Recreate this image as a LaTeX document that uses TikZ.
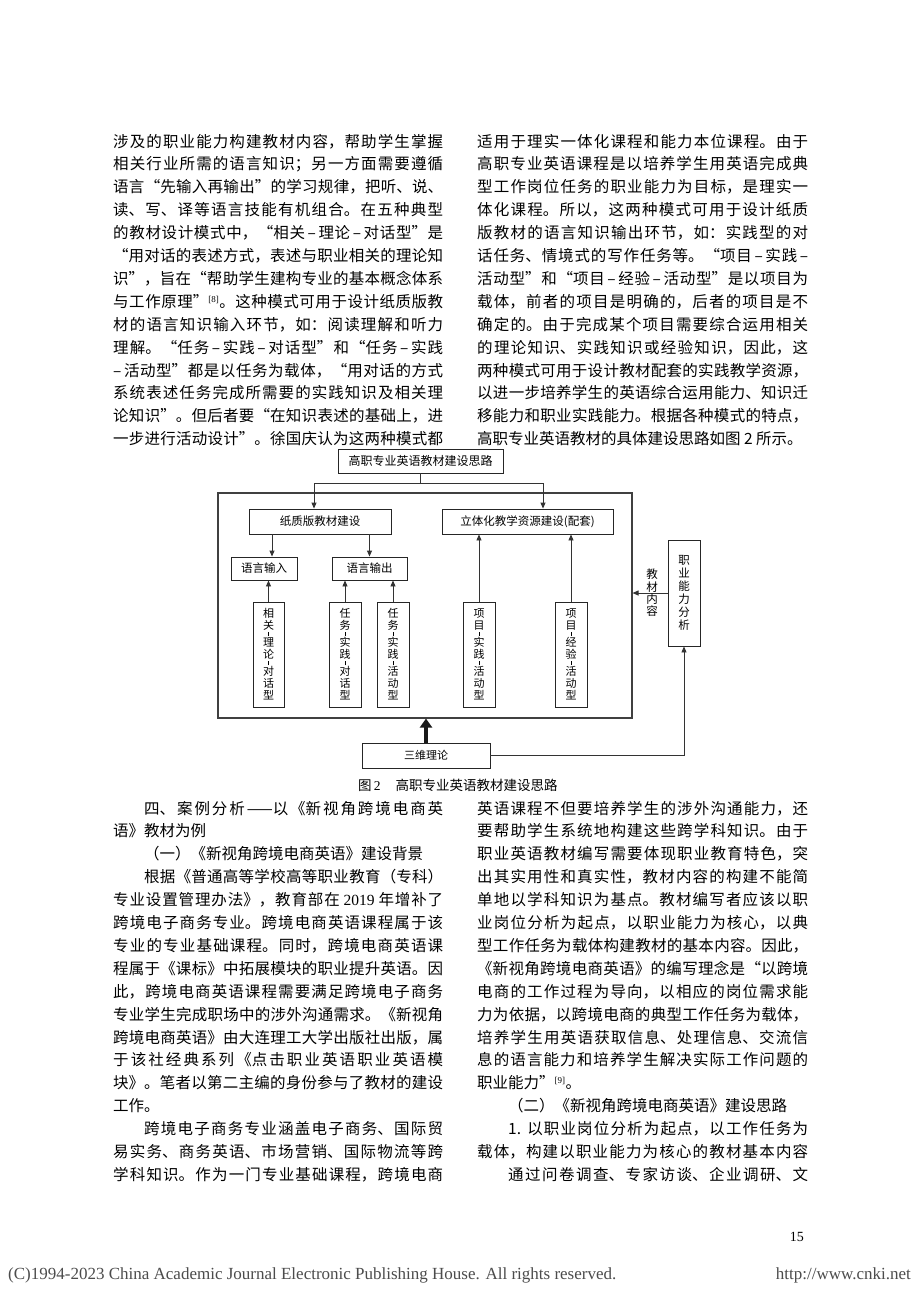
\documentclass[tikz,border=0pt]{standalone}
\usepackage{fontspec}
\setmainfont{Noto Sans CJK SC}
\newfontfamily\lat{Liberation Serif}
\usetikzlibrary{arrows.meta}
\newcommand{\colsetup}{\XeTeXlinebreaklocale "zh"\XeTeXlinebreakskip=0pt plus 4pt\relax\tolerance=10000\hbadness=10000\emergencystretch=10pt\parindent=0pt\parskip=0pt\parfillskip=0pt plus 1fil\fontsize{15.5}{22.9}\selectfont}
\newcommand{\supref}[1]{\textsuperscript{\lat\fontsize{9}{10}\selectfont[#1]}}
\newcommand{\vd}{\\[-3.5pt]\rule[2pt]{0.4pt}{4pt}\\[-3.5pt]}
\tikzset{
  ln/.style={draw=black!80, line width=0.9pt},
  arr/.style={ln, -{Triangle[length=6pt,width=5pt]}},
  bx/.style={draw=black!85, line width=0.9pt, inner sep=0pt, align=center, font=\fontsize{11.5}{13}\selectfont},
  vbx/.style={bx, minimum width=31pt, minimum height=105pt, font=\fontsize{11}{12}\selectfont},
  col/.style={anchor=base west, inner sep=0pt},
}
\begin{document}
\begin{tikzpicture}[x=1pt,y=-1pt]
\fill[white] (0,0) rectangle (920,1302);
\useasboundingbox (0,0) rectangle (920,1302);

% ---------- upper text ----------
\node[col] (tl) at (113,147) {\parbox[t]{330pt}{\colsetup
涉及的职业能力构建教材内容，帮助学生掌握\linebreak
相关行业所需的语言知识；另一方面需要遵循\linebreak
语言“先输入再输出”的学习规律，把听、说、\linebreak
读、写、译等语言技能有机组合。在五种典型\linebreak
的教材设计模式中，“相关\,–\,理论\,–\,对话型”是\linebreak
“用对话的表述方式，表述与职业相关的理论知\linebreak
识”，旨在“帮助学生建构专业的基本概念体系\linebreak
与工作原理”\supref{8}。这种模式可用于设计纸质版教\linebreak
材的语言知识输入环节，如：阅读理解和听力\linebreak
理解。“任务\,–\,实践\,–\,对话型”和“任务\,–\,实践\linebreak
–\,活动型”都是以任务为载体，“用对话的方式\linebreak
系统表述任务完成所需要的实践知识及相关理\linebreak
论知识”。但后者要“在知识表述的基础上，进\linebreak
一步进行活动设计”。徐国庆认为这两种模式都\linebreak
}};

\node[col] (tr) at (477,147) {\parbox[t]{331pt}{\colsetup
适用于理实一体化课程和能力本位课程。由于\linebreak
高职专业英语课程是以培养学生用英语完成典\linebreak
型工作岗位任务的职业能力为目标，是理实一\linebreak
体化课程。所以，这两种模式可用于设计纸质\linebreak
版教材的语言知识输出环节，如：实践型的对\linebreak
话任务、情境式的写作任务等。“项目\,–\,实践\,–\linebreak
活动型”和“项目\,–\,经验\,–\,活动型”是以项目为\linebreak
载体，前者的项目是明确的，后者的项目是不\linebreak
确定的。由于完成某个项目需要综合运用相关\linebreak
的理论知识、实践知识或经验知识，因此，这\linebreak
两种模式可用于设计教材配套的实践教学资源，\linebreak
以进一步培养学生的英语综合运用能力、知识迁\linebreak
移能力和职业实践能力。根据各种模式的特点，\linebreak
高职专业英语教材的具体建设思路如图 2 所示。\par
}};

% ---------- diagram ----------
\node[bx, minimum width=165pt, minimum height=24pt, font=\fontsize{12}{14}\selectfont] (top) at (420.5,461) {高职专业英语教材建设思路};
\node[draw=black!75, line width=1.1pt, inner sep=0pt, minimum width=414pt, minimum height=225pt] (frame) at (425,605.5) {};
\node[bx, minimum width=142pt, minimum height=25pt] (paper) at (320,521.5) {纸质版教材建设};
\node[bx, minimum width=171pt, minimum height=25pt] (res) at (527.5,521.5) {立体化教学资源建设(配套)};
\node[bx, minimum width=66pt, minimum height=23pt] (lin) at (264,568.5) {语言输入};
\node[bx, minimum width=75pt, minimum height=23pt] (lout) at (369.5,568.5) {语言输出};
\node[vbx] (v1) at (268.5,654.5) {相\\关\vd 理\\论\vd 对\\话\\型};
\node[vbx, minimum width=32pt] (v2) at (345,654.5) {任\\务\vd 实\\践\vd 对\\话\\型};
\node[vbx, minimum width=32pt] (v3) at (393,654.5) {任\\务\vd 实\\践\vd 活\\动\\型};
\node[vbx, minimum width=32pt] (v4) at (479,654.5) {项\\目\vd 实\\践\vd 活\\动\\型};
\node[vbx, minimum width=32pt] (v5) at (571,654.5) {项\\目\vd 经\\验\vd 活\\动\\型};
\node[bx, minimum width=32pt, minimum height=106pt, font=\fontsize{11.5}{13}\selectfont] (job) at (684,593) {职\\业\\能\\力\\分\\析};
\node[bx, minimum width=128pt, minimum height=25pt, font=\fontsize{11}{13}\selectfont] (sw) at (426,755.5) {三维理论};

\coordinate (jL) at (314,483);
\coordinate (jR) at (543,483);
\draw[ln] (top.south) -- (top.south |- jL);
\draw[ln] (jL) -- (jR);
\draw[arr] (jL) -- (jL |- paper.north);
\draw[arr] (jR) -- (jR |- res.north);
\draw[arr] ([xshift=8pt]lin.north |- paper.south) -- ([xshift=8pt]lin.north);
\draw[arr] (lout.north |- paper.south) -- (lout.north);
\draw[arr] (v1.north) -- (v1.north |- lin.south);
\draw[arr] (v2.north) -- (v2.north |- lout.south);
\draw[arr] (v3.north) -- (v3.north |- lout.south);
\draw[arr] (v4.north) -- (v4.north |- res.south);
\draw[arr] (v5.north) -- (v5.north |- res.south);
\draw[arr] (job.west) -- (job.west -| frame.east);
\node[align=center, inner sep=0pt, font=\fontsize{11.5}{12.3}\selectfont] (lab) at (652,593) {教\\材\\内\\容};
\draw[black!90, line width=4pt, -{Triangle[length=9pt,width=12pt]}] (sw.north) -- (sw.north |- frame.south);
\draw[arr] (sw.east) -| (job.south);

\node[anchor=base west, inner sep=0pt, font=\fontsize{13.5}{15}\selectfont] (cap) at (358,790) {图\,{\lat 2}\hspace{15pt}高职专业英语教材建设思路};

% ---------- lower text ----------
\node[col] (bl) at (113,814) {\parbox[t]{330pt}{\colsetup
\hspace*{2em}四、案例分析——以《新视角跨境电商英\linebreak
语》教材为例\par
\hspace*{2em}（一）《新视角跨境电商英语》建设背景\par
\hspace*{2em}根据《普通高等学校高等职业教育（专科）\linebreak
专业设置管理办法》，教育部在 {\lat 2019} 年增补了\linebreak
跨境电子商务专业。跨境电商英语课程属于该\linebreak
专业的专业基础课程。同时，跨境电商英语课\linebreak
程属于《课标》中拓展模块的职业提升英语。因\linebreak
此，跨境电商英语课程需要满足跨境电子商务\linebreak
专业学生完成职场中的涉外沟通需求。《新视角\linebreak
跨境电商英语》由大连理工大学出版社出版，属\linebreak
于该社经典系列《点击职业英语职业英语模\linebreak
块》。笔者以第二主编的身份参与了教材的建设\linebreak
工作。\par
\hspace*{2em}跨境电子商务专业涵盖电子商务、国际贸\linebreak
易实务、商务英语、市场营销、国际物流等跨\linebreak
学科知识。作为一门专业基础课程，跨境电商\linebreak
}};

\node[col] (br) at (477,814) {\parbox[t]{331pt}{\colsetup
英语课程不但要培养学生的涉外沟通能力，还\linebreak
要帮助学生系统地构建这些跨学科知识。由于\linebreak
职业英语教材编写需要体现职业教育特色，突\linebreak
出其实用性和真实性，教材内容的构建不能简\linebreak
单地以学科知识为基点。教材编写者应该以职\linebreak
业岗位分析为起点，以职业能力为核心，以典\linebreak
型工作任务为载体构建教材的基本内容。因此，\linebreak
《新视角跨境电商英语》的编写理念是“以跨境\linebreak
电商的工作过程为导向，以相应的岗位需求能\linebreak
力为依据，以跨境电商的典型工作任务为载体，\linebreak
培养学生用英语获取信息、处理信息、交流信\linebreak
息的语言能力和培养学生解决实际工作问题的\linebreak
职业能力”\supref{9}。\par
\hspace*{2em}（二）《新视角跨境电商英语》建设思路\par
\hspace*{2em}1. 以职业岗位分析为起点，以工作任务为\linebreak
载体，构建以职业能力为核心的教材基本内容\linebreak
\hspace*{2em}通过问卷调查、专家访谈、企业调研、文\linebreak
}};

% ---------- footer ----------
\node[anchor=base east, inner sep=0pt, font=\lat\fontsize{14}{16}\selectfont] (pg) at (804,1241) {15};
\node[anchor=base west, inner sep=0pt, text=black!70, font=\lat\fontsize{17}{19}\selectfont] (ft1) at (8,1279) {(C)1994-2023 China Academic Journal Electronic Publishing House. All rights reserved.};
\node[anchor=base east, inner sep=0pt, text=black!70, font=\lat\fontsize{17}{19}\selectfont] (ft2) at (911,1279) {http://www.cnki.net};
\end{tikzpicture}
\end{document}
